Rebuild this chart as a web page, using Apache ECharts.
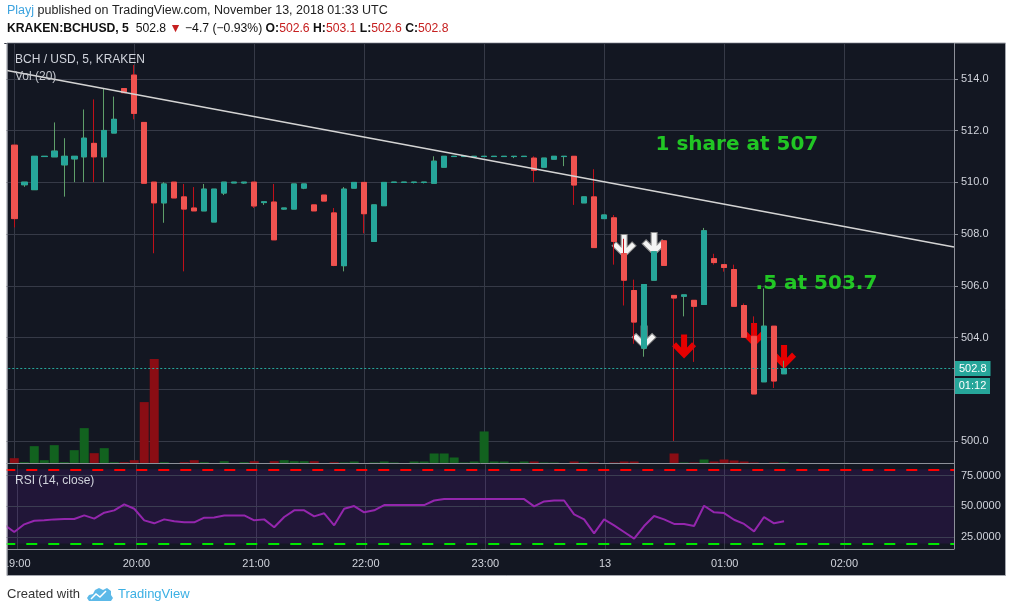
<!DOCTYPE html>
<html>
<head>
<meta charset="utf-8">
<title>BCH / USD, 5, KRAKEN</title>
<script src="https://cdn.jsdelivr.net/npm/echarts@6/dist/echarts.min.js"></script>
<style>
  html, body { margin: 0; padding: 0; background: #fff; }
  #chart { width: 1012px; height: 612px; }
</style>
</head>
<body>
<div id="chart"></div>
<script>
// 5 minute candles, 19:00 -> 01:30 (Kraken skipped one slot between 21:00 and 22:00)
const opens = [
  511.44, 509.91, 509.72, 511.00, 510.99, 510.68, 510.91, 510.99, 511.51, 510.99,
  511.91, 513.63, 514.15, 512.32, 510.01, 509.21, 510.01, 509.44, 509.01, 508.90,
  508.47, 509.59, 509.98, 509.98, 510.01, 509.22, 509.24, 508.97, 508.97, 509.78,
  509.13, 509.51, 508.82, 506.78, 509.78, 510.00, 507.72, 509.10, 510.00, 510.00,
  510.00, 510.00, 509.97, 510.59, 511.00, 511.00, 511.00, 511.00, 511.00, 511.00,
  511.00, 511.00, 510.94, 510.59, 510.90, 511.00, 511.01, 509.21, 509.44, 508.60,
  508.63, 507.24, 505.82, 503.59, 506.22, 507.74, 505.63, 505.60, 505.44, 505.28,
  507.05, 506.82, 506.63, 505.24, 504.05, 502.29, 504.44, 502.60
];
const closes = [
  508.60, 510.01, 511.01, 511.01, 511.21, 511.01, 511.01, 511.71, 510.99, 512.01,
  512.44, 513.47, 512.67, 509.97, 509.21, 509.94, 509.40, 508.97, 508.90, 509.74,
  509.74, 510.01, 510.01, 510.01, 509.09, 509.25, 507.78, 509.01, 509.94, 509.94,
  508.90, 509.28, 506.79, 509.74, 510.00, 508.79, 509.13, 510.00, 510.01, 510.01,
  510.01, 510.01, 510.82, 511.01, 511.01, 511.01, 511.01, 511.01, 511.01, 511.01,
  511.01, 511.01, 510.47, 510.94, 511.01, 511.01, 509.90, 509.44, 507.48, 508.74,
  507.72, 506.22, 504.60, 506.05, 507.32, 506.79, 505.53, 505.65, 505.21, 508.13,
  506.90, 506.71, 505.21, 504.01, 501.82, 504.44, 502.32, 502.80
];
const lows = [
  508.26, 509.83, 509.72, 511.00, 510.99, 509.45, 510.01, 510.01, 510.01, 510.01,
  511.91, 513.47, 512.44, 509.97, 507.26, 508.44, 509.40, 506.56, 508.90, 508.90,
  508.47, 509.51, 509.98, 509.95, 509.01, 509.13, 507.78, 508.95, 508.97, 509.74,
  508.90, 509.28, 506.76, 506.56, 509.78, 508.03, 507.72, 509.10, 510.00, 510.00,
  509.96, 509.96, 509.97, 510.59, 511.00, 511.00, 511.00, 511.00, 511.00, 511.00,
  510.94, 511.00, 510.01, 510.59, 510.90, 510.63, 509.13, 509.21, 507.48, 508.60,
  506.82, 505.24, 503.76, 503.26, 506.22, 506.79, 500.00, 504.82, 503.06, 505.28,
  506.82, 506.55, 505.21, 504.01, 501.82, 502.29, 502.05, 502.60
];
const highs = [
  511.44, 510.01, 511.01, 511.01, 512.32, 511.71, 511.01, 512.82, 513.21, 513.62,
  513.32, 513.63, 514.54, 512.32, 510.01, 510.01, 510.01, 509.94, 509.82, 509.94,
  509.74, 510.01, 510.01, 510.01, 510.01, 509.25, 509.94, 509.01, 509.94, 509.94,
  509.13, 509.51, 509.01, 509.82, 510.00, 510.00, 509.13, 510.00, 510.01, 510.01,
  510.01, 510.01, 511.01, 511.01, 511.01, 511.01, 511.01, 511.01, 511.01, 511.01,
  511.01, 511.01, 511.01, 510.94, 511.01, 511.01, 511.01, 509.44, 510.51, 508.74,
  508.74, 507.82, 506.24, 506.05, 507.32, 507.74, 505.63, 505.65, 505.44, 508.24,
  507.24, 506.82, 506.82, 505.32, 504.82, 505.90, 504.44, 503.10
];
const volumes = [
  53, 13, 173, 33, 183, 13, 133, 353, 103, 153,
  13, 13, 33, 613, 1043, 13, 0, 13, 33, 13,
  0, 23, 0, 13, 23, 0, 23, 33, 23, 23,
  23, 0, 13, 10, 20, 0, 10, 20, 10, 0,
  20, 20, 100, 100, 60, 10, 20, 320, 20, 20,
  10, 20, 20, 10, 10, 0, 20, 10, 10, 0,
  10, 20, 20, 0, 0, 0, 100, 10, 10, 40,
  20, 40, 30, 20, 10, 0, 10, 10
];
// RSI (14, close); rsiBefore is the candle just left of the frame
const rsiBefore = 35;
const rsi = [
  29.3, 35.5, 38.4, 38.7, 39.5, 39.8, 39.8, 42.7, 40.1, 44.9,
  46.8, 51.6, 48.1, 38.7, 36.3, 39.5, 37.9, 37.1, 37.1, 40.9,
  41.1, 42.7, 42.7, 42.7, 38.7, 39.5, 33.1, 41.4, 46.8, 46.8,
  41.9, 44.4, 34.7, 48.1, 50.3, 45.2, 46.8, 51.1, 51.1, 51.1,
  51.1, 51.1, 54.8, 55.9, 55.9, 55.9, 55.9, 55.9, 55.9, 55.9,
  55.9, 55.9, 50.0, 54.0, 54.8, 54.8, 43.5, 39.5, 28.2, 39.5,
  34.7, 29.3, 23.9, 34.1, 42.2, 39.5, 35.8, 35.8, 34.1, 50.5,
  45.2, 44.6, 39.2, 35.8, 29.8, 41.4, 36.3, 37.9
];
const rsiBands = [80, 20];
const rsiLevels = [25, 50, 75];

// time slots on the x axis
const firstSlot = [18, 55];
const missingSlot = '21:35';
const slotCount = 96;
const times = [];
for (let m = firstSlot[0] * 60 + firstSlot[1]; times.length < slotCount; m += 5) {
  const t = String(Math.floor(m / 60) % 24).padStart(2, '0') + ':' + String(m % 60).padStart(2, '0');
  if (t !== missingSlot) times.push(t);
}

// drawings on the chart: trend line, arrows, notes  [slot, price]
const trendLine = [[0, 514.35], [95, 507.50]];
const whiteArrows = [[62, 507.54], [65, 507.62], [64, 504.0]];
const redArrows = [[68, 503.65], [75, 504.10], [78, 503.25]];
const notes = [
  { name: '1 share at 507', value: [65, 511.45] },
  { name: '.5 at 503.7', value: [75, 506.07] }
];

const UP = '#26a69a', DOWN = '#ef5350';
const UP_WICK = '#5f9f6a', DOWN_WICK = '#c0101a';
const GRID = '#363a47', FRAME = '#8d9099', TXT = '#d1d4dc';
const FONT = 'Liberation Sans';
const ARROW = 'path://M9,0 L15,0 L15,12.5 L20,7.5 L24,11.5 L12,23.5 L0,11.5 L4,7.5 L9,12.5 Z';

const empty = ['-', '-', '-', '-'];
const candleData = [empty].concat(opens.map((o, i) => [o, closes[i], lows[i], highs[i]]));
const bodyData = [empty].concat(opens.map((o, i) =>
  [o, closes[i], Math.min(o, closes[i]), Math.max(o, closes[i])]));
const volData = ['-'].concat(volumes.map((v, i) => ({
  value: v,
  itemStyle: { color: closes[i] >= opens[i] ? '#12621f' : '#8a0d14' }
})));
const rsiData = [rsiBefore].concat(rsi);
const n = opens.length - 1;
const last = { o: opens[n], h: highs[n], l: lows[n], c: closes[n] };

const hourTick = (idx, v) => v.slice(3) === '00';
const hiddenX = (gridIndex) => ({
  gridIndex, type: 'category', data: times, boundaryGap: false, show: false
});

const chart = echarts.init(document.getElementById('chart'));
chart.setOption({
  backgroundColor: '#fff',
  animation: false,
  title: [
    {
      left: 7, top: 4, padding: 0,
      text: '{u|Playj} published on TradingView.com, November 13, 2018 01:33 UTC',
      textStyle: {
        fontSize: 12.5, fontFamily: FONT, fontWeight: 'normal', color: '#222',
        rich: { u: { fontSize: 12.5, fontFamily: FONT, color: '#3ca3df' } }
      }
    },
    {
      left: 7, top: 23, padding: 0,
      text: '{b|KRAKEN:BCHUSD, 5}  ' + last.c.toFixed(1) + ' {r|▼} −4.7 (−0.93%) ' +
        '{b|O:}{r|' + last.o.toFixed(1) + '} {b|H:}{r|' + last.h.toFixed(1) + '} ' +
        '{b|L:}{r|' + last.l.toFixed(1) + '} {b|C:}{r|' + last.c.toFixed(1) + '}',
      textStyle: {
        fontSize: 12.2, fontFamily: FONT, fontWeight: 'normal', color: '#111',
        rich: {
          b: { fontSize: 12.2, fontFamily: FONT, fontWeight: 'bold', color: '#111' },
          r: { fontSize: 12.2, fontFamily: FONT, color: '#c62020' }
        }
      }
    }
  ],
  grid: [
    { left: 4.27, right: 58, top: 43.3, height: 420.2 },   // price
    { left: 4.27, right: 58, top: 343.3, height: 120.2 },  // volume
    { left: 4.27, right: 58, top: 444.6, height: 123.6 },  // rsi 0..100
    { left: 4.27, right: 58, top: 464.5, height: 85 }      // rsi pane + time axis
  ],
  xAxis: [
    {
      gridIndex: 0, type: 'category', data: times, boundaryGap: false,
      axisLine: { show: false }, axisTick: { show: false }, axisLabel: { show: false },
      splitLine: { show: true, interval: hourTick, lineStyle: { color: GRID } }
    },
    hiddenX(1),
    hiddenX(2),
    {
      gridIndex: 3, type: 'category', data: times, boundaryGap: false,
      axisLine: { show: false }, axisTick: { show: false },
      axisLabel: {
        interval: hourTick, margin: 9, color: TXT, fontSize: 11, fontFamily: FONT,
        formatter: v => v === '00:00' ? '13' : v
      },
      splitLine: { show: true, interval: hourTick, lineStyle: { color: GRID } }
    }
  ],
  yAxis: [
    {
      gridIndex: 0, type: 'value', position: 'right', min: 499.13, max: 515.38, splitNumber: 8,
      axisLine: { show: false },
      axisTick: { show: true, length: 4, lineStyle: { color: FRAME } },
      axisLabel: {
        color: TXT, fontSize: 11, fontFamily: FONT, margin: 7,
        showMinLabel: false, showMaxLabel: false, formatter: v => v.toFixed(1)
      },
      splitLine: { lineStyle: { color: GRID } }
    },
    { gridIndex: 1, type: 'value', min: 0, max: 1200, show: false },
    {
      gridIndex: 2, type: 'value', position: 'right', min: 0, max: 100, interval: 25,
      axisLine: { show: false }, axisTick: { show: false }, splitLine: { show: false },
      axisLabel: {
        color: TXT, fontSize: 11, fontFamily: FONT, margin: 7,
        formatter: v => (v > 0 && v < 100) ? v.toFixed(4) : ''
      }
    },
    { gridIndex: 3, type: 'value', show: false }
  ],
  series: [
    {
      type: 'bar', xAxisIndex: 1, yAxisIndex: 1, data: volData,
      barWidth: 9, z: 1, silent: true
    },
    {
      type: 'scatter', xAxisIndex: 0, yAxisIndex: 0, data: whiteArrows, z: 2, silent: true,
      symbol: ARROW, symbolSize: [24, 23],
      itemStyle: { color: '#f4f4f4', borderColor: '#8a8a8a', borderWidth: 1, opacity: 1 }
    },
    {
      type: 'scatter', xAxisIndex: 0, yAxisIndex: 0, data: redArrows, z: 2, silent: true,
      symbol: ARROW, symbolSize: [24, 24],
      itemStyle: { color: '#e60000', opacity: 1 }
    },
    {
      type: 'candlestick', xAxisIndex: 0, yAxisIndex: 0, data: candleData,
      barWidth: 6, z: 3, silent: true,
      itemStyle: { color: UP, color0: DOWN, borderColor: UP_WICK, borderColor0: DOWN_WICK, borderWidth: 1 }
    },
    {
      type: 'candlestick', xAxisIndex: 0, yAxisIndex: 0, data: bodyData,
      barWidth: 6, z: 4, silent: true,
      itemStyle: { color: UP, color0: DOWN, borderColor: UP, borderColor0: DOWN, borderWidth: 1 },
      markLine: {
        silent: true, symbol: ['none', 'none'],
        data: [{ yAxis: last.c }],
        lineStyle: { color: UP, type: [2, 2], width: 1 },
        label: {
          position: 'end', distance: 1, formatter: last.c.toFixed(1),
          color: '#fff', backgroundColor: UP, padding: [2, 4, 2, 4],
          fontSize: 11, fontFamily: FONT
        }
      }
    },
    {
      type: 'line', xAxisIndex: 0, yAxisIndex: 0, data: trendLine, z: 5, silent: true,
      symbol: 'none', lineStyle: { color: '#d4d4d4', width: 1.5 }
    },
    {
      type: 'scatter', xAxisIndex: 0, yAxisIndex: 0, data: notes, z: 6, silent: true,
      symbolSize: 1, itemStyle: { color: 'rgba(0,0,0,0)' },
      label: {
        show: true, position: 'right', distance: 1, formatter: '{b}',
        color: '#26f226', fontSize: 20, fontWeight: 'bold', fontFamily: 'DejaVu Sans'
      }
    },
    {
      type: 'line', xAxisIndex: 2, yAxisIndex: 2, data: rsiData, z: 5, silent: true,
      symbol: 'none', lineStyle: { color: '#9426ad', width: 2 },
      markArea: {
        silent: true,
        itemStyle: { color: 'rgba(153,21,255,0.1)' },
        data: [[{ yAxis: rsiBands[1] }, { yAxis: rsiBands[0] }]]
      },
      markLine: {
        silent: true, symbol: ['none', 'none'], label: { show: false },
        data: rsiLevels.map(v => ({ yAxis: v, lineStyle: { color: '#3c3d52', type: 'solid', width: 1 } }))
          .concat([
            { yAxis: rsiBands[0], lineStyle: { color: '#ff0000', type: [11, 11], width: 2 } },
            { yAxis: rsiBands[1], lineStyle: { color: '#00e600', type: [11, 11], width: 2 } }
          ])
      }
    }
  ],
  graphic: [
    {
      type: 'rect', z: -10, silent: true,
      shape: { x: 7, y: 43, width: 998.5, height: 532.5 },
      style: { fill: '#131722', stroke: '#a4a7ae', lineWidth: 1 }
    },
    { type: 'rect', z: 100, silent: true, shape: { x: 0, y: 44, width: 6.5, height: 532 }, style: { fill: '#fff' } },
    { type: 'line', z: 100, silent: true, shape: { x1: 7, y1: 43, x2: 7, y2: 575.5 }, style: { stroke: '#a4a7ae', lineWidth: 1 } },
    { type: 'line', z: 10, silent: true, shape: { x1: 7, y1: 463.5, x2: 954, y2: 463.5 }, style: { stroke: FRAME, lineWidth: 1 } },
    { type: 'line', z: 10, silent: true, shape: { x1: 7, y1: 549.5, x2: 954, y2: 549.5 }, style: { stroke: FRAME, lineWidth: 1 } },
    { type: 'line', z: 10, silent: true, shape: { x1: 954.5, y1: 43, x2: 954.5, y2: 549.5 }, style: { stroke: FRAME, lineWidth: 1 } },
    {
      type: 'text', z: 10, silent: true, x: 15, y: 60,
      style: { text: 'BCH / USD, 5, KRAKEN', fill: TXT, font: '12px "Liberation Sans"', verticalAlign: 'middle' }
    },
    {
      type: 'text', z: 10, silent: true, x: 15, y: 77,
      style: { text: 'Vol (20)', fill: '#c3c6cd', font: '12px "Liberation Sans"', verticalAlign: 'middle' }
    },
    {
      type: 'text', z: 10, silent: true, x: 15, y: 481,
      style: { text: 'RSI (14, close)', fill: TXT, font: '12px "Liberation Sans"', verticalAlign: 'middle' }
    },
    { type: 'rect', z: 10, silent: true, shape: { x: 955, y: 378, width: 35, height: 16 }, style: { fill: UP } },
    {
      type: 'text', z: 11, silent: true, x: 972.5, y: 386,
      style: { text: '01:12', fill: '#fff', font: '11px "Liberation Sans"', align: 'center', verticalAlign: 'middle' }
    },
    {
      type: 'text', silent: true, x: 7, y: 594,
      style: { text: 'Created with', fill: '#333', font: '13px "Liberation Sans"', verticalAlign: 'middle' }
    },
    {
      type: 'polygon', silent: true,
      shape: { points: [[89, 601], [87, 598], [89, 595], [93, 594], [95, 590], [99, 588], [103, 590],
        [107, 588], [111, 591], [111, 595], [113, 598], [111, 601]] },
      style: { fill: '#5cb9e8' }
    },
    {
      type: 'polyline', silent: true,
      shape: { points: [[91, 599], [96, 594], [100, 597], [106, 591]] },
      style: { stroke: '#fff', lineWidth: 1.5, fill: null }
    },
    {
      type: 'text', silent: true, x: 118, y: 594,
      style: { text: 'TradingView', fill: '#3bb0e4', font: '13px "Liberation Sans"', verticalAlign: 'middle' }
    }
  ]
});
</script>
</body>
</html>
